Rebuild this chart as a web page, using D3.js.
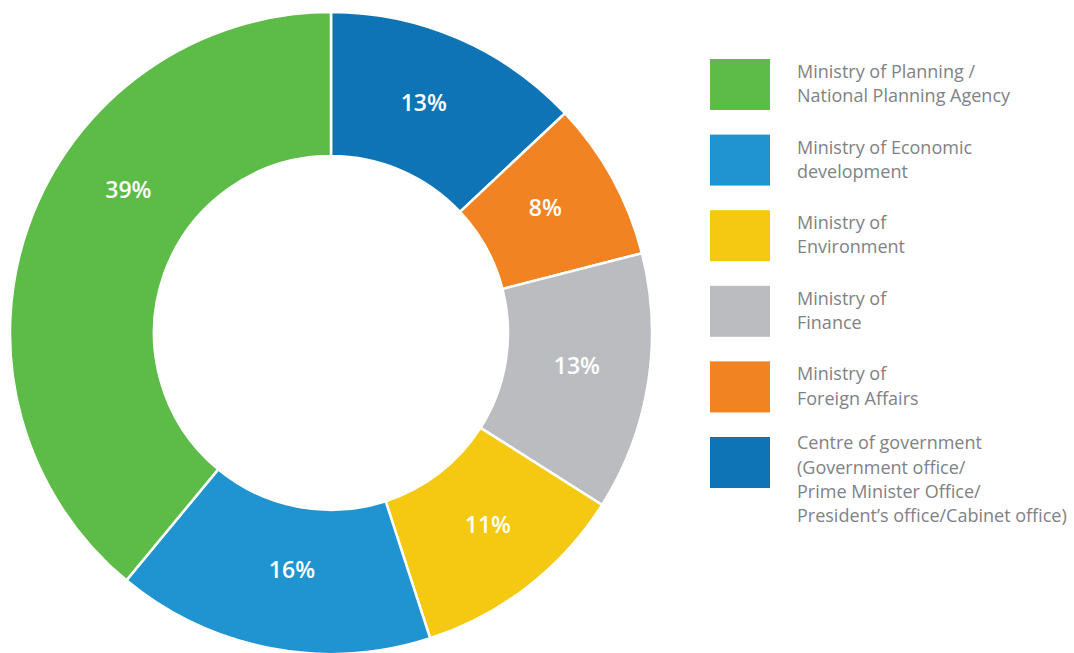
<!DOCTYPE html>
<html><head><meta charset="utf-8">
<script src="https://cdn.jsdelivr.net/npm/d3@7"></script>
<style>body{margin:0;background:#fff}svg{display:block}</style>
</head><body>
<svg id="chart" width="1074" height="653"></svg>
<script>
// Data
const sliceNames = ["Centre of government", "Ministry of Foreign Affairs", "Ministry of Finance", "Ministry of Environment", "Ministry of Economic development", "Ministry of Planning / National Planning Agency"];
const sliceValues = [13, 8, 13, 11, 16, 39];
const sliceColors = ["#0f74b5", "#f28322", "#bbbcbf", "#f5c811", "#2093d1", "#5dbb47"];
const legendOrder = [5, 4, 3, 2, 1, 0];
const legendLines = [
  ["Ministry of Planning /", "National Planning Agency"],
  ["Ministry of Economic", "development"],
  ["Ministry of", "Environment"],
  ["Ministry of", "Finance"],
  ["Ministry of", "Foreign Affairs"],
  ["Centre of government", "(Government office/", "Prime Minister Office/", "President\u2019s office/Cabinet office)"]
];

const svg = d3.select("#chart");
const cx = 331, cy = 333, rOuter = 321, rInner = 177, rLabel = 248;
const g = svg.append("g").attr("transform", `translate(${cx},${cy})`);
const pie = d3.pie().sort(null).value(d => d)(sliceValues);
const arc = d3.arc().innerRadius(rInner).outerRadius(rOuter);
g.selectAll("path").data(pie).join("path")
  .attr("d", arc)
  .attr("fill", (d, i) => sliceColors[i])
  .attr("stroke", "#fff").attr("stroke-width", 2.5).attr("stroke-linejoin", "miter");

g.selectAll("text.lbl").data(pie).join("text")
  .attr("class", "lbl")
  .attr("transform", d => {
    let a = (d.startAngle + d.endAngle) / 2 - 0.025;
    let r = rLabel;
    if (d.data === d3.max(sliceValues)) a = a + (d.endAngle - d.startAngle) * 0.12;
    if (d.index === 4) r = 240;
    return `translate(${r * Math.sin(a)},${-r * Math.cos(a)})`;
  })
  .attr("text-anchor", "middle").attr("dy", "0.36em")
  .attr("fill", "#fff").attr("font-family", "'Open Sans', sans-serif")
  .attr("font-weight", 600).attr("font-size", 23)
  .text(d => d.data + "%");

// Legend
const lg = svg.append("g").attr("transform", "translate(710,59)");
const step = 75.6;
legendOrder.forEach((si, k) => {
  const row = lg.append("g").attr("transform", `translate(0,${k * step})`);
  row.append("rect").attr("width", 60).attr("height", 51).attr("fill", sliceColors[si]);
  const n = legendLines[k].length;
  const t = row.append("text").attr("x", 87).attr("y", 19 - (n - 2) * 3.3)
    .attr("font-family", "'Open Sans', sans-serif").attr("font-size", 18)
    .attr("fill", "#808285");
  legendLines[k].forEach((ln, j) => {
    t.append("tspan").attr("x", 87).attr("dy", j === 0 ? 0 : 24.3).text(ln);
  });
});
</script>
</body></html>
